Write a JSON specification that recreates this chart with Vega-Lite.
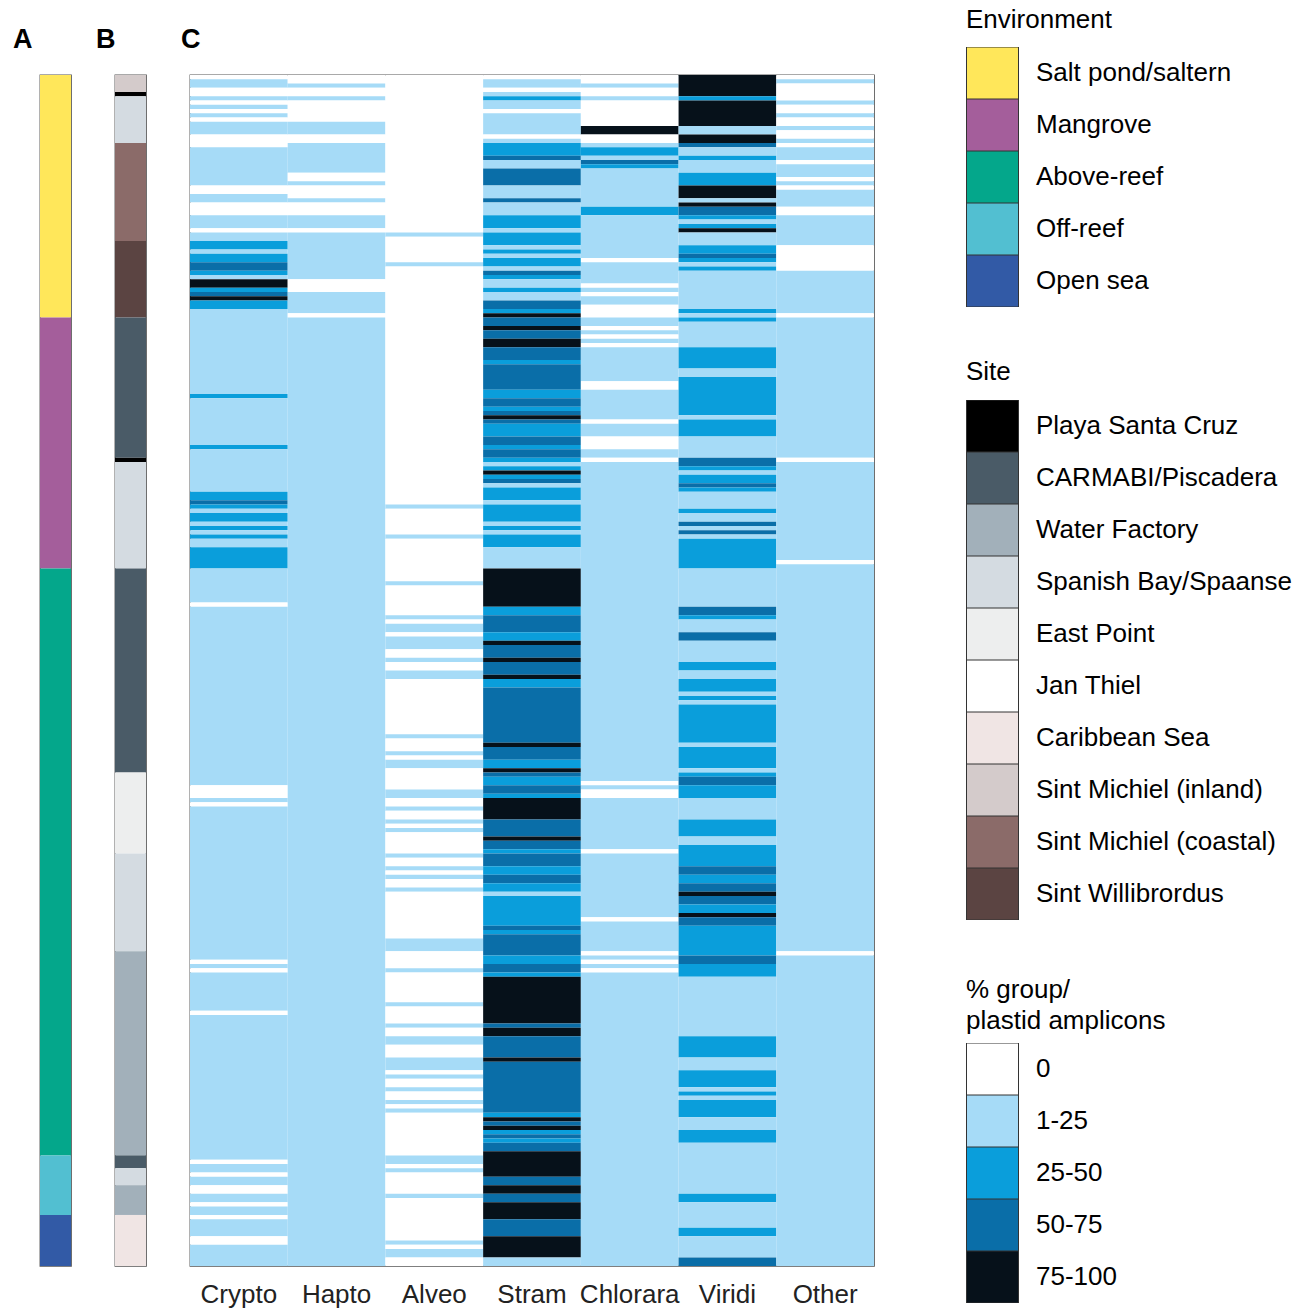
{
"$schema": "https://vega.github.io/schema/vega-lite/v6.json",
"padding": {"left": 12, "top": 6, "right": 0, "bottom": 0},
"bounds": "flush",
"spacing": 44,
"resolve": {"scale": {"color": "independent"}, "legend": {"color": "independent"}},
"datasets": {
"env": [
{"a":0,"b":57,"e":"Salt pond/saltern"},
{"a":57,"b":116,"e":"Mangrove"},
{"a":116,"b":254,"e":"Above-reef"},
{"a":254,"b":268,"e":"Off-reef"},
{"a":268,"b":280,"e":"Open sea"}
],
"site": [
{"a":0,"b":4,"s":"Sint Michiel (inland)"},
{"a":4,"b":5,"s":"Playa Santa Cruz"},
{"a":5,"b":16,"s":"Spanish Bay/Spaanse"},
{"a":16,"b":39,"s":"Sint Michiel (coastal)"},
{"a":39,"b":57,"s":"Sint Willibrordus"},
{"a":57,"b":90,"s":"CARMABI/Piscadera"},
{"a":90,"b":91,"s":"Playa Santa Cruz"},
{"a":91,"b":116,"s":"Spanish Bay/Spaanse"},
{"a":116,"b":164,"s":"CARMABI/Piscadera"},
{"a":164,"b":183,"s":"East Point"},
{"a":183,"b":206,"s":"Spanish Bay/Spaanse"},
{"a":206,"b":254,"s":"Water Factory"},
{"a":254,"b":257,"s":"CARMABI/Piscadera"},
{"a":257,"b":261,"s":"Spanish Bay/Spaanse"},
{"a":261,"b":268,"s":"Water Factory"},
{"a":268,"b":280,"s":"Caribbean Sea"}
],
"heat": [
{"c":"Crypto","a":0,"b":1,"v":"0"},
{"c":"Crypto","a":1,"b":3,"v":"1-25"},
{"c":"Crypto","a":3,"b":5,"v":"0"},
{"c":"Crypto","a":5,"b":6,"v":"1-25"},
{"c":"Crypto","a":6,"b":7,"v":"0"},
{"c":"Crypto","a":7,"b":8,"v":"1-25"},
{"c":"Crypto","a":8,"b":9,"v":"0"},
{"c":"Crypto","a":9,"b":10,"v":"1-25"},
{"c":"Crypto","a":10,"b":11,"v":"0"},
{"c":"Crypto","a":11,"b":14,"v":"1-25"},
{"c":"Crypto","a":14,"b":17,"v":"0"},
{"c":"Crypto","a":17,"b":26,"v":"1-25"},
{"c":"Crypto","a":26,"b":28,"v":"0"},
{"c":"Crypto","a":28,"b":30,"v":"1-25"},
{"c":"Crypto","a":30,"b":33,"v":"0"},
{"c":"Crypto","a":33,"b":36,"v":"1-25"},
{"c":"Crypto","a":36,"b":37,"v":"0"},
{"c":"Crypto","a":37,"b":39,"v":"1-25"},
{"c":"Crypto","a":39,"b":41,"v":"25-50"},
{"c":"Crypto","a":41,"b":42,"v":"1-25"},
{"c":"Crypto","a":42,"b":44,"v":"25-50"},
{"c":"Crypto","a":44,"b":46,"v":"50-75"},
{"c":"Crypto","a":46,"b":47,"v":"25-50"},
{"c":"Crypto","a":47,"b":48,"v":"1-25"},
{"c":"Crypto","a":48,"b":50,"v":"75-100"},
{"c":"Crypto","a":50,"b":51,"v":"25-50"},
{"c":"Crypto","a":51,"b":52,"v":"50-75"},
{"c":"Crypto","a":52,"b":53,"v":"75-100"},
{"c":"Crypto","a":53,"b":55,"v":"25-50"},
{"c":"Crypto","a":55,"b":75,"v":"1-25"},
{"c":"Crypto","a":75,"b":76,"v":"25-50"},
{"c":"Crypto","a":76,"b":87,"v":"1-25"},
{"c":"Crypto","a":87,"b":88,"v":"25-50"},
{"c":"Crypto","a":88,"b":98,"v":"1-25"},
{"c":"Crypto","a":98,"b":100,"v":"25-50"},
{"c":"Crypto","a":100,"b":101,"v":"50-75"},
{"c":"Crypto","a":101,"b":102,"v":"25-50"},
{"c":"Crypto","a":102,"b":103,"v":"1-25"},
{"c":"Crypto","a":103,"b":105,"v":"25-50"},
{"c":"Crypto","a":105,"b":106,"v":"1-25"},
{"c":"Crypto","a":106,"b":107,"v":"25-50"},
{"c":"Crypto","a":107,"b":108,"v":"1-25"},
{"c":"Crypto","a":108,"b":109,"v":"25-50"},
{"c":"Crypto","a":109,"b":111,"v":"1-25"},
{"c":"Crypto","a":111,"b":116,"v":"25-50"},
{"c":"Crypto","a":116,"b":124,"v":"1-25"},
{"c":"Crypto","a":124,"b":125,"v":"0"},
{"c":"Crypto","a":125,"b":167,"v":"1-25"},
{"c":"Crypto","a":167,"b":170,"v":"0"},
{"c":"Crypto","a":170,"b":171,"v":"1-25"},
{"c":"Crypto","a":171,"b":172,"v":"0"},
{"c":"Crypto","a":172,"b":208,"v":"1-25"},
{"c":"Crypto","a":208,"b":209,"v":"0"},
{"c":"Crypto","a":209,"b":210,"v":"1-25"},
{"c":"Crypto","a":210,"b":211,"v":"0"},
{"c":"Crypto","a":211,"b":220,"v":"1-25"},
{"c":"Crypto","a":220,"b":221,"v":"0"},
{"c":"Crypto","a":221,"b":255,"v":"1-25"},
{"c":"Crypto","a":255,"b":256,"v":"0"},
{"c":"Crypto","a":256,"b":258,"v":"1-25"},
{"c":"Crypto","a":258,"b":259,"v":"0"},
{"c":"Crypto","a":259,"b":261,"v":"1-25"},
{"c":"Crypto","a":261,"b":263,"v":"0"},
{"c":"Crypto","a":263,"b":265,"v":"1-25"},
{"c":"Crypto","a":265,"b":266,"v":"0"},
{"c":"Crypto","a":266,"b":268,"v":"1-25"},
{"c":"Crypto","a":268,"b":269,"v":"0"},
{"c":"Crypto","a":269,"b":273,"v":"1-25"},
{"c":"Crypto","a":273,"b":275,"v":"0"},
{"c":"Crypto","a":275,"b":280,"v":"1-25"},
{"c":"Hapto","a":0,"b":2,"v":"0"},
{"c":"Hapto","a":2,"b":3,"v":"1-25"},
{"c":"Hapto","a":3,"b":5,"v":"0"},
{"c":"Hapto","a":5,"b":6,"v":"1-25"},
{"c":"Hapto","a":6,"b":11,"v":"0"},
{"c":"Hapto","a":11,"b":14,"v":"1-25"},
{"c":"Hapto","a":14,"b":16,"v":"0"},
{"c":"Hapto","a":16,"b":23,"v":"1-25"},
{"c":"Hapto","a":23,"b":25,"v":"0"},
{"c":"Hapto","a":25,"b":26,"v":"1-25"},
{"c":"Hapto","a":26,"b":29,"v":"0"},
{"c":"Hapto","a":29,"b":30,"v":"1-25"},
{"c":"Hapto","a":30,"b":33,"v":"0"},
{"c":"Hapto","a":33,"b":36,"v":"1-25"},
{"c":"Hapto","a":36,"b":37,"v":"0"},
{"c":"Hapto","a":37,"b":48,"v":"1-25"},
{"c":"Hapto","a":48,"b":51,"v":"0"},
{"c":"Hapto","a":51,"b":56,"v":"1-25"},
{"c":"Hapto","a":56,"b":57,"v":"0"},
{"c":"Hapto","a":57,"b":280,"v":"1-25"},
{"c":"Alveo","a":0,"b":37,"v":"0"},
{"c":"Alveo","a":37,"b":38,"v":"1-25"},
{"c":"Alveo","a":38,"b":44,"v":"0"},
{"c":"Alveo","a":44,"b":45,"v":"1-25"},
{"c":"Alveo","a":45,"b":101,"v":"0"},
{"c":"Alveo","a":101,"b":102,"v":"1-25"},
{"c":"Alveo","a":102,"b":108,"v":"0"},
{"c":"Alveo","a":108,"b":109,"v":"1-25"},
{"c":"Alveo","a":109,"b":119,"v":"0"},
{"c":"Alveo","a":119,"b":120,"v":"1-25"},
{"c":"Alveo","a":120,"b":127,"v":"0"},
{"c":"Alveo","a":127,"b":128,"v":"1-25"},
{"c":"Alveo","a":128,"b":129,"v":"0"},
{"c":"Alveo","a":129,"b":131,"v":"1-25"},
{"c":"Alveo","a":131,"b":132,"v":"0"},
{"c":"Alveo","a":132,"b":135,"v":"1-25"},
{"c":"Alveo","a":135,"b":137,"v":"0"},
{"c":"Alveo","a":137,"b":138,"v":"1-25"},
{"c":"Alveo","a":138,"b":140,"v":"0"},
{"c":"Alveo","a":140,"b":142,"v":"1-25"},
{"c":"Alveo","a":142,"b":155,"v":"0"},
{"c":"Alveo","a":155,"b":156,"v":"1-25"},
{"c":"Alveo","a":156,"b":159,"v":"0"},
{"c":"Alveo","a":159,"b":160,"v":"1-25"},
{"c":"Alveo","a":160,"b":161,"v":"0"},
{"c":"Alveo","a":161,"b":163,"v":"1-25"},
{"c":"Alveo","a":163,"b":168,"v":"0"},
{"c":"Alveo","a":168,"b":170,"v":"1-25"},
{"c":"Alveo","a":170,"b":172,"v":"0"},
{"c":"Alveo","a":172,"b":173,"v":"1-25"},
{"c":"Alveo","a":173,"b":175,"v":"0"},
{"c":"Alveo","a":175,"b":176,"v":"1-25"},
{"c":"Alveo","a":176,"b":177,"v":"0"},
{"c":"Alveo","a":177,"b":178,"v":"1-25"},
{"c":"Alveo","a":178,"b":183,"v":"0"},
{"c":"Alveo","a":183,"b":184,"v":"1-25"},
{"c":"Alveo","a":184,"b":186,"v":"0"},
{"c":"Alveo","a":186,"b":187,"v":"1-25"},
{"c":"Alveo","a":187,"b":188,"v":"0"},
{"c":"Alveo","a":188,"b":189,"v":"1-25"},
{"c":"Alveo","a":189,"b":191,"v":"0"},
{"c":"Alveo","a":191,"b":192,"v":"1-25"},
{"c":"Alveo","a":192,"b":203,"v":"0"},
{"c":"Alveo","a":203,"b":206,"v":"1-25"},
{"c":"Alveo","a":206,"b":210,"v":"0"},
{"c":"Alveo","a":210,"b":211,"v":"1-25"},
{"c":"Alveo","a":211,"b":218,"v":"0"},
{"c":"Alveo","a":218,"b":219,"v":"1-25"},
{"c":"Alveo","a":219,"b":223,"v":"0"},
{"c":"Alveo","a":223,"b":224,"v":"1-25"},
{"c":"Alveo","a":224,"b":226,"v":"0"},
{"c":"Alveo","a":226,"b":228,"v":"1-25"},
{"c":"Alveo","a":228,"b":231,"v":"0"},
{"c":"Alveo","a":231,"b":234,"v":"1-25"},
{"c":"Alveo","a":234,"b":235,"v":"0"},
{"c":"Alveo","a":235,"b":236,"v":"1-25"},
{"c":"Alveo","a":236,"b":238,"v":"0"},
{"c":"Alveo","a":238,"b":239,"v":"1-25"},
{"c":"Alveo","a":239,"b":241,"v":"0"},
{"c":"Alveo","a":241,"b":242,"v":"1-25"},
{"c":"Alveo","a":242,"b":243,"v":"0"},
{"c":"Alveo","a":243,"b":244,"v":"1-25"},
{"c":"Alveo","a":244,"b":254,"v":"0"},
{"c":"Alveo","a":254,"b":256,"v":"1-25"},
{"c":"Alveo","a":256,"b":257,"v":"0"},
{"c":"Alveo","a":257,"b":258,"v":"1-25"},
{"c":"Alveo","a":258,"b":263,"v":"0"},
{"c":"Alveo","a":263,"b":264,"v":"1-25"},
{"c":"Alveo","a":264,"b":274,"v":"0"},
{"c":"Alveo","a":274,"b":275,"v":"1-25"},
{"c":"Alveo","a":275,"b":276,"v":"0"},
{"c":"Alveo","a":276,"b":278,"v":"1-25"},
{"c":"Alveo","a":278,"b":280,"v":"0"},
{"c":"Stram","a":0,"b":1,"v":"0"},
{"c":"Stram","a":1,"b":3,"v":"1-25"},
{"c":"Stram","a":3,"b":4,"v":"0"},
{"c":"Stram","a":4,"b":5,"v":"1-25"},
{"c":"Stram","a":5,"b":6,"v":"25-50"},
{"c":"Stram","a":6,"b":8,"v":"1-25"},
{"c":"Stram","a":8,"b":9,"v":"0"},
{"c":"Stram","a":9,"b":14,"v":"1-25"},
{"c":"Stram","a":14,"b":15,"v":"0"},
{"c":"Stram","a":15,"b":16,"v":"1-25"},
{"c":"Stram","a":16,"b":19,"v":"25-50"},
{"c":"Stram","a":19,"b":20,"v":"50-75"},
{"c":"Stram","a":20,"b":22,"v":"1-25"},
{"c":"Stram","a":22,"b":26,"v":"50-75"},
{"c":"Stram","a":26,"b":29,"v":"1-25"},
{"c":"Stram","a":29,"b":30,"v":"50-75"},
{"c":"Stram","a":30,"b":33,"v":"1-25"},
{"c":"Stram","a":33,"b":36,"v":"25-50"},
{"c":"Stram","a":36,"b":37,"v":"1-25"},
{"c":"Stram","a":37,"b":40,"v":"25-50"},
{"c":"Stram","a":40,"b":41,"v":"1-25"},
{"c":"Stram","a":41,"b":42,"v":"25-50"},
{"c":"Stram","a":42,"b":43,"v":"1-25"},
{"c":"Stram","a":43,"b":45,"v":"25-50"},
{"c":"Stram","a":45,"b":46,"v":"1-25"},
{"c":"Stram","a":46,"b":47,"v":"50-75"},
{"c":"Stram","a":47,"b":48,"v":"25-50"},
{"c":"Stram","a":48,"b":50,"v":"1-25"},
{"c":"Stram","a":50,"b":51,"v":"25-50"},
{"c":"Stram","a":51,"b":53,"v":"1-25"},
{"c":"Stram","a":53,"b":55,"v":"50-75"},
{"c":"Stram","a":55,"b":56,"v":"25-50"},
{"c":"Stram","a":56,"b":57,"v":"75-100"},
{"c":"Stram","a":57,"b":59,"v":"50-75"},
{"c":"Stram","a":59,"b":60,"v":"75-100"},
{"c":"Stram","a":60,"b":62,"v":"50-75"},
{"c":"Stram","a":62,"b":64,"v":"75-100"},
{"c":"Stram","a":64,"b":67,"v":"50-75"},
{"c":"Stram","a":67,"b":68,"v":"25-50"},
{"c":"Stram","a":68,"b":74,"v":"50-75"},
{"c":"Stram","a":74,"b":76,"v":"25-50"},
{"c":"Stram","a":76,"b":78,"v":"50-75"},
{"c":"Stram","a":78,"b":79,"v":"25-50"},
{"c":"Stram","a":79,"b":80,"v":"50-75"},
{"c":"Stram","a":80,"b":81,"v":"75-100"},
{"c":"Stram","a":81,"b":82,"v":"50-75"},
{"c":"Stram","a":82,"b":85,"v":"25-50"},
{"c":"Stram","a":85,"b":87,"v":"50-75"},
{"c":"Stram","a":87,"b":88,"v":"25-50"},
{"c":"Stram","a":88,"b":90,"v":"50-75"},
{"c":"Stram","a":90,"b":91,"v":"25-50"},
{"c":"Stram","a":91,"b":92,"v":"1-25"},
{"c":"Stram","a":92,"b":93,"v":"25-50"},
{"c":"Stram","a":93,"b":94,"v":"75-100"},
{"c":"Stram","a":94,"b":95,"v":"25-50"},
{"c":"Stram","a":95,"b":96,"v":"50-75"},
{"c":"Stram","a":96,"b":97,"v":"1-25"},
{"c":"Stram","a":97,"b":100,"v":"25-50"},
{"c":"Stram","a":100,"b":101,"v":"1-25"},
{"c":"Stram","a":101,"b":105,"v":"25-50"},
{"c":"Stram","a":105,"b":106,"v":"1-25"},
{"c":"Stram","a":106,"b":107,"v":"25-50"},
{"c":"Stram","a":107,"b":108,"v":"1-25"},
{"c":"Stram","a":108,"b":111,"v":"25-50"},
{"c":"Stram","a":111,"b":116,"v":"1-25"},
{"c":"Stram","a":116,"b":125,"v":"75-100"},
{"c":"Stram","a":125,"b":127,"v":"25-50"},
{"c":"Stram","a":127,"b":131,"v":"50-75"},
{"c":"Stram","a":131,"b":133,"v":"25-50"},
{"c":"Stram","a":133,"b":134,"v":"75-100"},
{"c":"Stram","a":134,"b":137,"v":"50-75"},
{"c":"Stram","a":137,"b":138,"v":"75-100"},
{"c":"Stram","a":138,"b":141,"v":"50-75"},
{"c":"Stram","a":141,"b":142,"v":"75-100"},
{"c":"Stram","a":142,"b":144,"v":"25-50"},
{"c":"Stram","a":144,"b":157,"v":"50-75"},
{"c":"Stram","a":157,"b":158,"v":"75-100"},
{"c":"Stram","a":158,"b":161,"v":"50-75"},
{"c":"Stram","a":161,"b":163,"v":"25-50"},
{"c":"Stram","a":163,"b":164,"v":"75-100"},
{"c":"Stram","a":164,"b":165,"v":"50-75"},
{"c":"Stram","a":165,"b":167,"v":"25-50"},
{"c":"Stram","a":167,"b":169,"v":"50-75"},
{"c":"Stram","a":169,"b":170,"v":"25-50"},
{"c":"Stram","a":170,"b":175,"v":"75-100"},
{"c":"Stram","a":175,"b":179,"v":"50-75"},
{"c":"Stram","a":179,"b":180,"v":"75-100"},
{"c":"Stram","a":180,"b":182,"v":"50-75"},
{"c":"Stram","a":182,"b":183,"v":"25-50"},
{"c":"Stram","a":183,"b":186,"v":"50-75"},
{"c":"Stram","a":186,"b":188,"v":"25-50"},
{"c":"Stram","a":188,"b":190,"v":"50-75"},
{"c":"Stram","a":190,"b":192,"v":"25-50"},
{"c":"Stram","a":192,"b":193,"v":"1-25"},
{"c":"Stram","a":193,"b":200,"v":"25-50"},
{"c":"Stram","a":200,"b":201,"v":"50-75"},
{"c":"Stram","a":201,"b":202,"v":"25-50"},
{"c":"Stram","a":202,"b":207,"v":"50-75"},
{"c":"Stram","a":207,"b":209,"v":"25-50"},
{"c":"Stram","a":209,"b":211,"v":"50-75"},
{"c":"Stram","a":211,"b":212,"v":"25-50"},
{"c":"Stram","a":212,"b":223,"v":"75-100"},
{"c":"Stram","a":223,"b":224,"v":"50-75"},
{"c":"Stram","a":224,"b":226,"v":"75-100"},
{"c":"Stram","a":226,"b":231,"v":"50-75"},
{"c":"Stram","a":231,"b":232,"v":"75-100"},
{"c":"Stram","a":232,"b":244,"v":"50-75"},
{"c":"Stram","a":244,"b":245,"v":"25-50"},
{"c":"Stram","a":245,"b":246,"v":"75-100"},
{"c":"Stram","a":246,"b":247,"v":"50-75"},
{"c":"Stram","a":247,"b":248,"v":"75-100"},
{"c":"Stram","a":248,"b":249,"v":"25-50"},
{"c":"Stram","a":249,"b":250,"v":"50-75"},
{"c":"Stram","a":250,"b":251,"v":"25-50"},
{"c":"Stram","a":251,"b":253,"v":"50-75"},
{"c":"Stram","a":253,"b":259,"v":"75-100"},
{"c":"Stram","a":259,"b":261,"v":"50-75"},
{"c":"Stram","a":261,"b":263,"v":"75-100"},
{"c":"Stram","a":263,"b":265,"v":"50-75"},
{"c":"Stram","a":265,"b":269,"v":"75-100"},
{"c":"Stram","a":269,"b":273,"v":"50-75"},
{"c":"Stram","a":273,"b":278,"v":"75-100"},
{"c":"Stram","a":278,"b":280,"v":"1-25"},
{"c":"Chlorara","a":0,"b":2,"v":"0"},
{"c":"Chlorara","a":2,"b":3,"v":"1-25"},
{"c":"Chlorara","a":3,"b":5,"v":"0"},
{"c":"Chlorara","a":5,"b":6,"v":"1-25"},
{"c":"Chlorara","a":6,"b":12,"v":"0"},
{"c":"Chlorara","a":12,"b":14,"v":"75-100"},
{"c":"Chlorara","a":14,"b":16,"v":"0"},
{"c":"Chlorara","a":16,"b":17,"v":"1-25"},
{"c":"Chlorara","a":17,"b":19,"v":"25-50"},
{"c":"Chlorara","a":19,"b":20,"v":"1-25"},
{"c":"Chlorara","a":20,"b":21,"v":"50-75"},
{"c":"Chlorara","a":21,"b":22,"v":"25-50"},
{"c":"Chlorara","a":22,"b":31,"v":"1-25"},
{"c":"Chlorara","a":31,"b":33,"v":"25-50"},
{"c":"Chlorara","a":33,"b":43,"v":"1-25"},
{"c":"Chlorara","a":43,"b":44,"v":"0"},
{"c":"Chlorara","a":44,"b":49,"v":"1-25"},
{"c":"Chlorara","a":49,"b":50,"v":"0"},
{"c":"Chlorara","a":50,"b":51,"v":"1-25"},
{"c":"Chlorara","a":51,"b":52,"v":"0"},
{"c":"Chlorara","a":52,"b":54,"v":"1-25"},
{"c":"Chlorara","a":54,"b":57,"v":"0"},
{"c":"Chlorara","a":57,"b":59,"v":"1-25"},
{"c":"Chlorara","a":59,"b":60,"v":"0"},
{"c":"Chlorara","a":60,"b":61,"v":"1-25"},
{"c":"Chlorara","a":61,"b":62,"v":"0"},
{"c":"Chlorara","a":62,"b":63,"v":"1-25"},
{"c":"Chlorara","a":63,"b":64,"v":"0"},
{"c":"Chlorara","a":64,"b":72,"v":"1-25"},
{"c":"Chlorara","a":72,"b":74,"v":"0"},
{"c":"Chlorara","a":74,"b":81,"v":"1-25"},
{"c":"Chlorara","a":81,"b":82,"v":"0"},
{"c":"Chlorara","a":82,"b":85,"v":"1-25"},
{"c":"Chlorara","a":85,"b":88,"v":"0"},
{"c":"Chlorara","a":88,"b":90,"v":"1-25"},
{"c":"Chlorara","a":90,"b":91,"v":"0"},
{"c":"Chlorara","a":91,"b":166,"v":"1-25"},
{"c":"Chlorara","a":166,"b":167,"v":"0"},
{"c":"Chlorara","a":167,"b":168,"v":"1-25"},
{"c":"Chlorara","a":168,"b":170,"v":"0"},
{"c":"Chlorara","a":170,"b":182,"v":"1-25"},
{"c":"Chlorara","a":182,"b":183,"v":"0"},
{"c":"Chlorara","a":183,"b":198,"v":"1-25"},
{"c":"Chlorara","a":198,"b":199,"v":"0"},
{"c":"Chlorara","a":199,"b":206,"v":"1-25"},
{"c":"Chlorara","a":206,"b":207,"v":"0"},
{"c":"Chlorara","a":207,"b":208,"v":"1-25"},
{"c":"Chlorara","a":208,"b":209,"v":"0"},
{"c":"Chlorara","a":209,"b":210,"v":"1-25"},
{"c":"Chlorara","a":210,"b":211,"v":"0"},
{"c":"Chlorara","a":211,"b":280,"v":"1-25"},
{"c":"Viridi","a":0,"b":5,"v":"75-100"},
{"c":"Viridi","a":5,"b":6,"v":"25-50"},
{"c":"Viridi","a":6,"b":12,"v":"75-100"},
{"c":"Viridi","a":12,"b":14,"v":"1-25"},
{"c":"Viridi","a":14,"b":16,"v":"75-100"},
{"c":"Viridi","a":16,"b":17,"v":"50-75"},
{"c":"Viridi","a":17,"b":19,"v":"1-25"},
{"c":"Viridi","a":19,"b":20,"v":"25-50"},
{"c":"Viridi","a":20,"b":23,"v":"1-25"},
{"c":"Viridi","a":23,"b":26,"v":"25-50"},
{"c":"Viridi","a":26,"b":29,"v":"75-100"},
{"c":"Viridi","a":29,"b":30,"v":"1-25"},
{"c":"Viridi","a":30,"b":31,"v":"75-100"},
{"c":"Viridi","a":31,"b":33,"v":"50-75"},
{"c":"Viridi","a":33,"b":34,"v":"25-50"},
{"c":"Viridi","a":34,"b":35,"v":"1-25"},
{"c":"Viridi","a":35,"b":36,"v":"25-50"},
{"c":"Viridi","a":36,"b":37,"v":"75-100"},
{"c":"Viridi","a":37,"b":40,"v":"1-25"},
{"c":"Viridi","a":40,"b":42,"v":"25-50"},
{"c":"Viridi","a":42,"b":43,"v":"50-75"},
{"c":"Viridi","a":43,"b":44,"v":"25-50"},
{"c":"Viridi","a":44,"b":45,"v":"1-25"},
{"c":"Viridi","a":45,"b":46,"v":"25-50"},
{"c":"Viridi","a":46,"b":55,"v":"1-25"},
{"c":"Viridi","a":55,"b":56,"v":"25-50"},
{"c":"Viridi","a":56,"b":57,"v":"1-25"},
{"c":"Viridi","a":57,"b":58,"v":"25-50"},
{"c":"Viridi","a":58,"b":64,"v":"1-25"},
{"c":"Viridi","a":64,"b":69,"v":"25-50"},
{"c":"Viridi","a":69,"b":71,"v":"1-25"},
{"c":"Viridi","a":71,"b":80,"v":"25-50"},
{"c":"Viridi","a":80,"b":81,"v":"1-25"},
{"c":"Viridi","a":81,"b":85,"v":"25-50"},
{"c":"Viridi","a":85,"b":90,"v":"1-25"},
{"c":"Viridi","a":90,"b":92,"v":"50-75"},
{"c":"Viridi","a":92,"b":93,"v":"25-50"},
{"c":"Viridi","a":93,"b":94,"v":"1-25"},
{"c":"Viridi","a":94,"b":96,"v":"25-50"},
{"c":"Viridi","a":96,"b":97,"v":"50-75"},
{"c":"Viridi","a":97,"b":98,"v":"25-50"},
{"c":"Viridi","a":98,"b":102,"v":"1-25"},
{"c":"Viridi","a":102,"b":103,"v":"25-50"},
{"c":"Viridi","a":103,"b":105,"v":"1-25"},
{"c":"Viridi","a":105,"b":106,"v":"50-75"},
{"c":"Viridi","a":106,"b":107,"v":"1-25"},
{"c":"Viridi","a":107,"b":108,"v":"50-75"},
{"c":"Viridi","a":108,"b":109,"v":"1-25"},
{"c":"Viridi","a":109,"b":116,"v":"25-50"},
{"c":"Viridi","a":116,"b":125,"v":"1-25"},
{"c":"Viridi","a":125,"b":127,"v":"50-75"},
{"c":"Viridi","a":127,"b":128,"v":"25-50"},
{"c":"Viridi","a":128,"b":131,"v":"1-25"},
{"c":"Viridi","a":131,"b":133,"v":"50-75"},
{"c":"Viridi","a":133,"b":138,"v":"1-25"},
{"c":"Viridi","a":138,"b":140,"v":"25-50"},
{"c":"Viridi","a":140,"b":142,"v":"1-25"},
{"c":"Viridi","a":142,"b":145,"v":"25-50"},
{"c":"Viridi","a":145,"b":146,"v":"1-25"},
{"c":"Viridi","a":146,"b":147,"v":"25-50"},
{"c":"Viridi","a":147,"b":148,"v":"1-25"},
{"c":"Viridi","a":148,"b":157,"v":"25-50"},
{"c":"Viridi","a":157,"b":158,"v":"1-25"},
{"c":"Viridi","a":158,"b":163,"v":"25-50"},
{"c":"Viridi","a":163,"b":164,"v":"1-25"},
{"c":"Viridi","a":164,"b":165,"v":"25-50"},
{"c":"Viridi","a":165,"b":167,"v":"50-75"},
{"c":"Viridi","a":167,"b":170,"v":"25-50"},
{"c":"Viridi","a":170,"b":175,"v":"1-25"},
{"c":"Viridi","a":175,"b":179,"v":"25-50"},
{"c":"Viridi","a":179,"b":181,"v":"1-25"},
{"c":"Viridi","a":181,"b":186,"v":"25-50"},
{"c":"Viridi","a":186,"b":188,"v":"50-75"},
{"c":"Viridi","a":188,"b":190,"v":"25-50"},
{"c":"Viridi","a":190,"b":192,"v":"50-75"},
{"c":"Viridi","a":192,"b":193,"v":"75-100"},
{"c":"Viridi","a":193,"b":195,"v":"50-75"},
{"c":"Viridi","a":195,"b":197,"v":"25-50"},
{"c":"Viridi","a":197,"b":198,"v":"75-100"},
{"c":"Viridi","a":198,"b":200,"v":"50-75"},
{"c":"Viridi","a":200,"b":207,"v":"25-50"},
{"c":"Viridi","a":207,"b":209,"v":"50-75"},
{"c":"Viridi","a":209,"b":212,"v":"25-50"},
{"c":"Viridi","a":212,"b":226,"v":"1-25"},
{"c":"Viridi","a":226,"b":231,"v":"25-50"},
{"c":"Viridi","a":231,"b":234,"v":"1-25"},
{"c":"Viridi","a":234,"b":238,"v":"25-50"},
{"c":"Viridi","a":238,"b":239,"v":"1-25"},
{"c":"Viridi","a":239,"b":240,"v":"25-50"},
{"c":"Viridi","a":240,"b":241,"v":"1-25"},
{"c":"Viridi","a":241,"b":245,"v":"25-50"},
{"c":"Viridi","a":245,"b":248,"v":"1-25"},
{"c":"Viridi","a":248,"b":251,"v":"25-50"},
{"c":"Viridi","a":251,"b":263,"v":"1-25"},
{"c":"Viridi","a":263,"b":265,"v":"25-50"},
{"c":"Viridi","a":265,"b":271,"v":"1-25"},
{"c":"Viridi","a":271,"b":273,"v":"25-50"},
{"c":"Viridi","a":273,"b":278,"v":"1-25"},
{"c":"Viridi","a":278,"b":280,"v":"50-75"},
{"c":"Other","a":0,"b":1,"v":"0"},
{"c":"Other","a":1,"b":2,"v":"1-25"},
{"c":"Other","a":2,"b":6,"v":"0"},
{"c":"Other","a":6,"b":7,"v":"1-25"},
{"c":"Other","a":7,"b":9,"v":"0"},
{"c":"Other","a":9,"b":10,"v":"1-25"},
{"c":"Other","a":10,"b":12,"v":"0"},
{"c":"Other","a":12,"b":13,"v":"1-25"},
{"c":"Other","a":13,"b":15,"v":"0"},
{"c":"Other","a":15,"b":16,"v":"1-25"},
{"c":"Other","a":16,"b":17,"v":"0"},
{"c":"Other","a":17,"b":20,"v":"1-25"},
{"c":"Other","a":20,"b":21,"v":"0"},
{"c":"Other","a":21,"b":24,"v":"1-25"},
{"c":"Other","a":24,"b":25,"v":"0"},
{"c":"Other","a":25,"b":26,"v":"1-25"},
{"c":"Other","a":26,"b":27,"v":"0"},
{"c":"Other","a":27,"b":31,"v":"1-25"},
{"c":"Other","a":31,"b":33,"v":"0"},
{"c":"Other","a":33,"b":40,"v":"1-25"},
{"c":"Other","a":40,"b":46,"v":"0"},
{"c":"Other","a":46,"b":56,"v":"1-25"},
{"c":"Other","a":56,"b":57,"v":"0"},
{"c":"Other","a":57,"b":90,"v":"1-25"},
{"c":"Other","a":90,"b":91,"v":"0"},
{"c":"Other","a":91,"b":114,"v":"1-25"},
{"c":"Other","a":114,"b":115,"v":"0"},
{"c":"Other","a":115,"b":206,"v":"1-25"},
{"c":"Other","a":206,"b":207,"v":"0"},
{"c":"Other","a":207,"b":280,"v":"1-25"}
]
},
"hconcat": [
{
"width": 31, "height": 1191,
"title": {"text": "A", "anchor": "start", "dx": -27, "offset": -47, "fontSize": 27, "fontWeight": "bold", "color": "#000000"},
"data": {"name": "env"},
"mark": {"type": "rect"},
"encoding": {
"y": {"field": "a", "type": "quantitative", "scale": {"domain": [0, 280], "reverse": true, "nice": false, "zero": false}, "axis": null},
"y2": {"field": "b"},
"color": {"field": "e", "type": "nominal",
"scale": {"domain": ["Salt pond/saltern", "Mangrove", "Above-reef", "Off-reef", "Open sea"], "range": ["#ffe75a", "#a45e9b", "#04a78b", "#52bfd1", "#325aa6"]},
"legend": {"orient": "none", "legendX": 926, "legendY": -68, "title": "Environment", "titlePadding": 14}}
}
},
{
"width": 31, "height": 1191,
"title": {"text": "B", "anchor": "start", "dx": -19, "offset": 21, "fontSize": 27, "fontWeight": "bold", "color": "#000000"},
"data": {"name": "site"},
"mark": {"type": "rect"},
"encoding": {
"y": {"field": "a", "type": "quantitative", "scale": {"domain": [0, 280], "reverse": true, "nice": false, "zero": false}, "axis": null},
"y2": {"field": "b"},
"color": {"field": "s", "type": "nominal",
"scale": {"domain": ["Playa Santa Cruz", "CARMABI/Piscadera", "Water Factory", "Spanish Bay/Spaanse", "East Point", "Jan Thiel", "Caribbean Sea", "Sint Michiel (inland)", "Sint Michiel (coastal)", "Sint Willibrordus"],
"range": ["#000000", "#4a5b67", "#a2b0ba", "#d4dbe1", "#edeeee", "#ffffff", "#f0e5e4", "#d4cbcb", "#8b6b69", "#5b4442"]},
"legend": {"orient": "none", "legendX": 851, "legendY": 284, "title": "Site", "titlePadding": 15}}
}
},
{
"width": 684, "height": 1191,
"title": {"text": "C", "anchor": "start", "dx": -9, "offset": 21, "fontSize": 27, "fontWeight": "bold", "color": "#000000"},
"data": {"name": "heat"},
"mark": {"type": "rect"},
"encoding": {
"x": {"field": "c", "type": "nominal", "sort": ["Crypto", "Hapto", "Alveo", "Stram", "Chlorara", "Viridi", "Other"],
"scale": {"paddingInner": 0, "paddingOuter": 0},
"axis": {"title": null, "labelAngle": 0, "labelFontSize": 26, "labelColor": "#222222", "ticks": false, "domain": false, "labelPadding": 15}},
"y": {"field": "a", "type": "quantitative", "scale": {"domain": [0, 280], "reverse": true, "nice": false, "zero": false}, "axis": null},
"y2": {"field": "b"},
"color": {"field": "v", "type": "ordinal",
"scale": {"domain": ["0", "1-25", "25-50", "50-75", "75-100"], "range": ["#ffffff", "#a6dbf7", "#0a9edb", "#0a6ea8", "#06111a"]},
"legend": {"orient": "none", "legendX": 776, "legendY": 902, "title": ["% group/", "plastid amplicons"], "titlePadding": 9, "titleLineHeight": 31}}
}
}
],
"config": {
"font": "Liberation Sans",
"background": "#ffffff",
"view": {"stroke": "#555555", "strokeWidth": 1.3},
"legend": {
"symbolType": "square", "symbolSize": 2704, "symbolStrokeColor": "#333333", "symbolStrokeWidth": 1, "symbolOpacity": 1,
"labelFontSize": 26, "labelColor": "#000000", "labelOffset": 17, "labelLimit": 400,
"titleFontSize": 26, "titleFontWeight": "normal", "titleColor": "#000000", "titleLimit": 400,
"rowPadding": 0, "clipHeight": 52, "padding": 0
}
}
}
